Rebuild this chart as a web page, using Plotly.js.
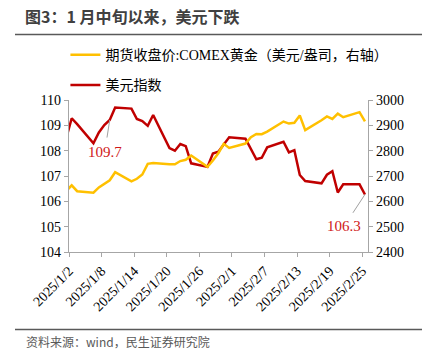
<!DOCTYPE html>
<html><head><meta charset="utf-8">
<script src="https://cdn.plot.ly/plotly-3.0.1.min.js"></script>
<style>html,body{margin:0;padding:0;background:#fff}#c{width:432px;height:360px}</style>
</head><body><div id="c"></div>
<script>
const dates = ['2025-01-01','2025-01-02','2025-01-03','2025-01-06','2025-01-07','2025-01-08','2025-01-09','2025-01-10','2025-01-13','2025-01-14','2025-01-15','2025-01-16','2025-01-17','2025-01-20','2025-01-21','2025-01-22','2025-01-23','2025-01-24','2025-01-27','2025-01-28','2025-01-29','2025-01-30','2025-01-31','2025-02-03','2025-02-04','2025-02-05','2025-02-06','2025-02-07','2025-02-10','2025-02-11','2025-02-12','2025-02-13','2025-02-14','2025-02-17','2025-02-18','2025-02-19','2025-02-20','2025-02-21','2025-02-24','2025-02-25'];
const gold = [2641,2663,2640,2634,2655,2670,2683,2715,2679,2689,2706,2748,2751,2746,2746,2759,2764,2781,2736,2761,2790,2827,2811,2828,2853,2866,2865,2875,2915,2907,2910,2939,2881,2920,2935,2925,2946,2932,2952,2916];
const dxy = [108.5,109.28,109.05,108.29,108.72,109.01,109.21,109.70,109.66,109.25,109.17,108.98,109.41,108.10,108.00,108.26,108.18,107.50,107.36,107.89,107.96,108.25,108.53,108.47,108.05,107.66,107.72,108.13,108.35,107.93,108.02,107.04,106.80,106.71,107.05,107.19,106.35,106.67,106.67,106.27];
const tickDates = ['2025-01-02','2025-01-08','2025-01-14','2025-01-20','2025-01-26','2025-02-01','2025-02-07','2025-02-13','2025-02-19','2025-02-25'];
const tickText = ['2025/1/2','2025/1/8','2025/1/14','2025/1/20','2025/1/26','2025/2/1','2025/2/7','2025/2/13','2025/2/19','2025/2/25'];
const nameGold = '期货收盘价:COMEX黄金（美元/盎司，右轴）';
const nameDxy = '美元指数';

const shiftHalfDay = s => { const p = s.split('-').map(Number); return new Date(Date.UTC(p[0],p[1]-1,p[2]) - 12*3600e3).toISOString().slice(0,19).replace('T',' '); };
const tickVals = tickDates.map(shiftHalfDay);

const serif = 'Liberation Serif, Times New Roman, Noto Sans CJK SC, serif';
const axisGray = '#A6A6A6';
const RED = '#C00000', GOLD = '#FFC000';

const traces = [
  {x: dates, y: gold, name: nameGold, yaxis: 'y2', type: 'scatter', mode: 'lines', line: {color: GOLD, width: 2.5}, legendgroup: 'a'},
  {x: dates, y: dxy, name: nameDxy, type: 'scatter', mode: 'lines', line: {color: RED, width: 2.5}, legendgroup: 'b'}
];

const iMaxLabel = 6; // leader line meets the curve near Jan 9
const iLast = dxy.length - 1;

const layout = {
  width: 432, height: 360,
  margin: {l: 69, r: 64, t: 100, b: 108},
  paper_bgcolor: '#fff', plot_bgcolor: '#fff',
  showlegend: true,
  title: {text: '<b>图3：1 月中旬以来，美元下跌</b>', xref: 'container', yref: 'container', x: 25/432, xanchor: 'left', y: 1 - 17/360, yanchor: 'middle', font: {family: 'Noto Sans CJK SC, sans-serif', size: 16, color: '#404040'}},
  legend: {x: -0.012, xanchor: 'left', y: 1.40, yanchor: 'top', orientation: 'v', traceorder: 'grouped', tracegroupgap: 9, bgcolor: 'rgba(0,0,0,0)', font: {family: serif, size: 14, color: '#000'}, itemwidth: 30},
  xaxis: {type: 'date', range: ['2025-01-01 12:00', '2025-02-25 13:30'], tickmode: 'array', tickvals: tickVals, ticktext: tickText, tickangle: -45, ticks: 'outside', ticklen: 4, tickcolor: axisGray, showline: true, linecolor: axisGray, linewidth: 1.3, showgrid: false, zeroline: false, tickfont: {family: serif, size: 14, color: '#000'}},
  yaxis: {range: [104, 110], dtick: 1, ticks: 'outside', ticklen: 4, tickcolor: axisGray, showline: true, linecolor: axisGray, linewidth: 1.3, showgrid: false, zeroline: false, tickfont: {family: serif, size: 14, color: '#000'}},
  yaxis2: {overlaying: 'y', side: 'right', range: [2400, 3000], dtick: 100, ticks: 'outside', ticklen: 4, tickcolor: axisGray, showline: true, linecolor: axisGray, linewidth: 1.3, showgrid: false, zeroline: false, tickfont: {family: serif, size: 14, color: '#000'}},
  shapes: [
    {type: 'line', xref: 'paper', yref: 'paper', x0: (15-69)/299, x1: (422-69)/299, y0: (252-34.5)/152, y1: (252-34.5)/152, line: {color: '#595959', width: 1.5}},
    {type: 'line', xref: 'paper', yref: 'paper', x0: (15-69)/299, x1: (422-69)/299, y0: (252-329.5)/152, y1: (252-329.5)/152, line: {color: '#595959', width: 1.5}}
  ],
  annotations: [
    {x: dates[iMaxLabel], y: dxy[iMaxLabel], xref: 'x', yref: 'y', text: Math.max(...dxy).toFixed(1), showarrow: true, arrowhead: 0, arrowwidth: 1, arrowcolor: '#A0A0A0', ax: -5, ay: 32, startstandoff: 5, font: {family: serif, size: 15, color: '#D01818'}},
    {x: dates[iLast], y: dxy[iLast], xref: 'x', yref: 'y', text: dxy[iLast].toFixed(1), showarrow: true, arrowhead: 0, arrowwidth: 1, arrowcolor: '#A0A0A0', ax: -21, ay: 32, startstandoff: 5, font: {family: serif, size: 15, color: '#D01818'}},
    {xref: 'paper', yref: 'paper', x: (24-69)/299, y: (252-341)/152, xanchor: 'left', yanchor: 'middle', showarrow: false, text: '资料来源：wind，民生证券研究院', font: {family: 'Noto Sans CJK SC, sans-serif', size: 12, color: '#595959'}}
  ]
};

Plotly.newPlot('c', traces, layout, {displayModeBar: false, staticPlot: true});
</script>
</body></html>
